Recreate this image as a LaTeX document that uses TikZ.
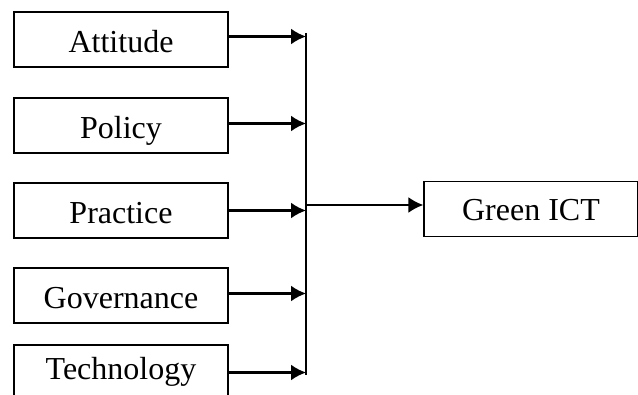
\documentclass[tikz,border=0pt]{standalone}
\usepackage{fontspec}
\setmainfont{Liberation Serif}
\tikzset{>=latex}
\usetikzlibrary{positioning, arrows.meta}

\begin{document}
\begin{tikzpicture}[x=0.5pt, y=-0.5pt,
    factor/.style={draw, line width=0.6pt, minimum width=107pt, minimum height=27.5pt, inner sep=0pt,
      text height=20.5pt, text depth=7pt, font=\fontsize{16}{19}\selectfont},
    link/.style={->, line width=1.1pt, >={Latex[length=7.5pt, width=8pt]}}]
      \useasboundingbox (0,0) rectangle (638,395);
      \node[factor] (att) at (121,39.5) {Attitude};
      \node[factor] (pol) at (121,125.5) {Policy};
      \node[factor] (pra) at (121,210.5) {Practice};
      \node[factor] (gov) at (121,295.5) {Governance};
      \node[factor, text height=17.5pt, text depth=10pt] (tec) at (121,372.5) {Technology};
      \node[factor, text height=19.5pt, text depth=8pt] (gict) at (531,209) {Green ICT};
      \coordinate (bustop) at (306,33);
      \coordinate (busbot) at (306,375);
      \coordinate (busmid) at (306,205);
      \draw[line width=0.8pt] (bustop) -- (busbot);
      \draw[link] ([yshift=1.5pt]att.east) -- ([yshift=1.5pt]att.east -| bustop);
      \draw[link] ([yshift=1pt]pol.east) -- ([yshift=1pt]pol.east -| bustop);
      \draw[link] (pra.east) -- (pra.east -| bustop);
      \draw[link] ([yshift=1pt]gov.east) -- ([yshift=1pt]gov.east -| bustop);
      \draw[link] (tec.east) -- (tec.east -| bustop);
      \draw[link] (busmid) -- (busmid -| gict.west);
\end{tikzpicture}
\end{document}
